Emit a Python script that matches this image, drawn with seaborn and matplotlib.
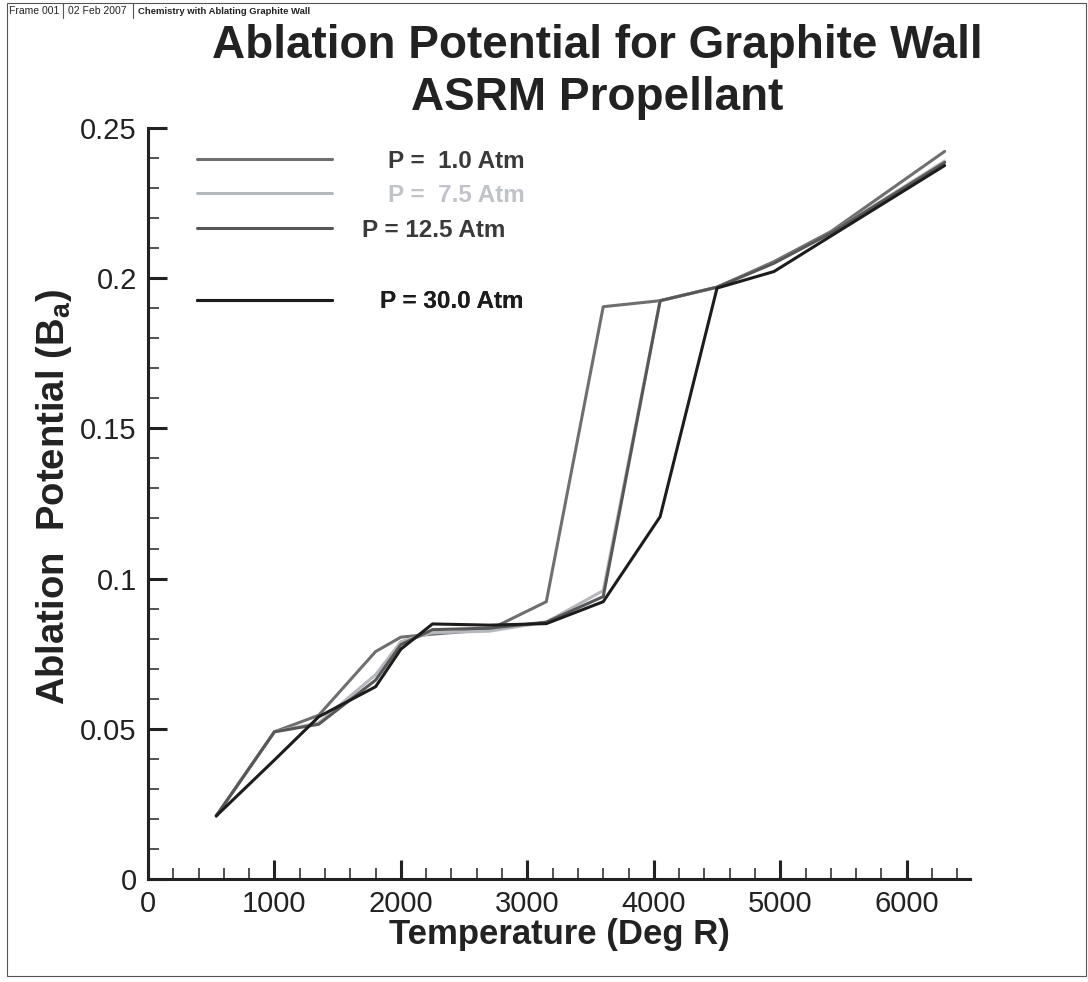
import matplotlib
matplotlib.use("Agg")
import matplotlib.pyplot as plt
import matplotlib.patches as mpatches
import seaborn as sns
import pandas as pd

# data
temperature = [540, 1000, 1350, 1800, 2000, 2250, 2700, 3150, 3600, 4050, 4500, 4950, 5400, 6300]
ba_1_0 = [0.021, 0.049, 0.0545, 0.0757, 0.0805, 0.0815, 0.0830, 0.0923, 0.1905, 0.1925, 0.1970, 0.2055, 0.2155, 0.2422]
ba_7_5 = [0.021, 0.049, 0.0520, 0.0680, 0.0790, 0.0820, 0.0825, 0.0855, 0.0960, 0.1925, 0.1970, 0.2050, 0.2150, 0.2390]
ba_12_5 = [0.021, 0.049, 0.0515, 0.0662, 0.0780, 0.0830, 0.0835, 0.0855, 0.0940, 0.1925, 0.1970, 0.2050, 0.2150, 0.2385]
ba_30_0 = [0.021, 0.0396, 0.0540, 0.0640, 0.0765, 0.0849, 0.0845, 0.0850, 0.0923, 0.1206, 0.1967, 0.2022, 0.2140, 0.2375]

series_labels = ["P =  1.0 Atm", "P =  7.5 Atm", "P = 12.5 Atm", "P = 30.0 Atm"]
line_colors = ["#6f6f6f", "#b4b8bd", "#575757", "#1c1c1c"]
text_colors = ["#3a3a3a", "#c0c4c8", "#3a3a3a", "#1c1c1c"]

x_ticks = [0, 1000, 2000, 3000, 4000, 5000, 6000]
x_ticklabels = ["0", "1000", "2000", "3000", "4000", "5000", "6000"]
y_ticks = [0, 0.05, 0.1, 0.15, 0.2, 0.25]
y_ticklabels = ["0", "0.05", "0.1", "0.15", "0.2", "0.25"]

df = pd.concat([
    pd.DataFrame({"T": temperature, "Ba": vals, "P": lab})
    for vals, lab in zip([ba_1_0, ba_7_5, ba_12_5, ba_30_0], series_labels)
])

sns.set_style("ticks")
plt.rcParams["font.family"] = ["Liberation Sans", "DejaVu Sans"]
plt.rcParams["mathtext.fontset"] = "custom"
plt.rcParams["mathtext.rm"] = "Liberation Sans:bold"
plt.rcParams["mathtext.bf"] = "Liberation Sans:bold"

fig = plt.figure(figsize=(10.88, 9.82), dpi=100)
ax = fig.add_axes([0.136, 0.1049, 0.7555, 0.7648])

sns.lineplot(data=df, x="T", y="Ba", hue="P", hue_order=series_labels,
             palette=dict(zip(series_labels, line_colors)),
             sort=False, estimator=None, linewidth=2.2, ax=ax, legend=False)

ax.set_xlim(0, 6500)
ax.set_ylim(0, 0.25)
ax.set_xticks(x_ticks)
ax.set_xticklabels(x_ticklabels)
ax.set_yticks(y_ticks)
ax.set_yticklabels(y_ticklabels)
ax.xaxis.set_minor_locator(matplotlib.ticker.MultipleLocator(200))
ax.yaxis.set_minor_locator(matplotlib.ticker.MultipleLocator(0.01))
ax.tick_params(which="major", direction="in", length=14, width=2.2, labelsize=21, pad=8, colors="#222222")
ax.tick_params(which="minor", direction="in", length=8, width=1.1, colors="#222222")
for s in ["top", "right"]:
    ax.spines[s].set_visible(False)
for s in ["left", "bottom"]:
    ax.spines[s].set_linewidth(2.2)
    ax.spines[s].set_color("#222222")

ax.set_xlabel("Temperature (Deg R)", fontsize=25, fontweight="bold", color="#222222", labelpad=0)
ax.set_ylabel(r"Ablation  Potential (B$_\mathrm{a}$)", fontsize=27.5, fontweight="bold", color="#222222")
ax.yaxis.set_label_coords(-0.09, 0.508)

# legend: one entry per row, rows placed like the reference
lines = ax.get_lines()
row_y = [0.9560, 0.9107, 0.8641, 0.7683]
text_pad = [2.3, 2.3, 1.23, 1.98]
for i in range(4):
    leg = ax.legend([lines[i]], [series_labels[i]], loc="center left", bbox_to_anchor=(0.0596, row_y[i]),
                    frameon=False, prop={"size": 17.5, "weight": "bold"}, handlelength=5.55,
                    handletextpad=text_pad[i], borderaxespad=0, borderpad=0)
    leg.get_texts()[0].set_color(text_colors[i])
    ax.add_artist(leg)

# titles
fig.text(0.549, 1 - 46 / 982, "Ablation Potential for Graphite Wall", ha="center", va="center",
         fontsize=33, fontweight="bold", color="#222222")
fig.text(0.549, 1 - 98 / 982, "ASRM Propellant", ha="center", va="center",
         fontsize=33, fontweight="bold", color="#222222")

# frame and header strip
W, H = 1088, 982
fig.patches.append(mpatches.Rectangle((7 / W, 1 - 976 / H), 1079 / W, 973 / H, transform=fig.transFigure,
                                      fill=False, edgecolor="#555555", linewidth=0.8))
for xd in [63, 133]:
    fig.add_artist(matplotlib.lines.Line2D([xd / W, xd / W], [1 - 3 / H, 1 - 18 / H], color="#555555", linewidth=0.8))
fig.text(9 / W, 1 - 11 / H, "Frame 001", fontsize=7.5, va="center", color="#222222")
fig.text(68 / W, 1 - 11 / H, "02 Feb 2007", fontsize=7.5, va="center", color="#222222")
fig.text(138 / W, 1 - 11 / H, "Chemistry with Ablating Graphite Wall", fontsize=6.8, va="center",
         fontweight="bold", color="#222222")

plt.savefig("out.png", dpi=100)
plt.close()
